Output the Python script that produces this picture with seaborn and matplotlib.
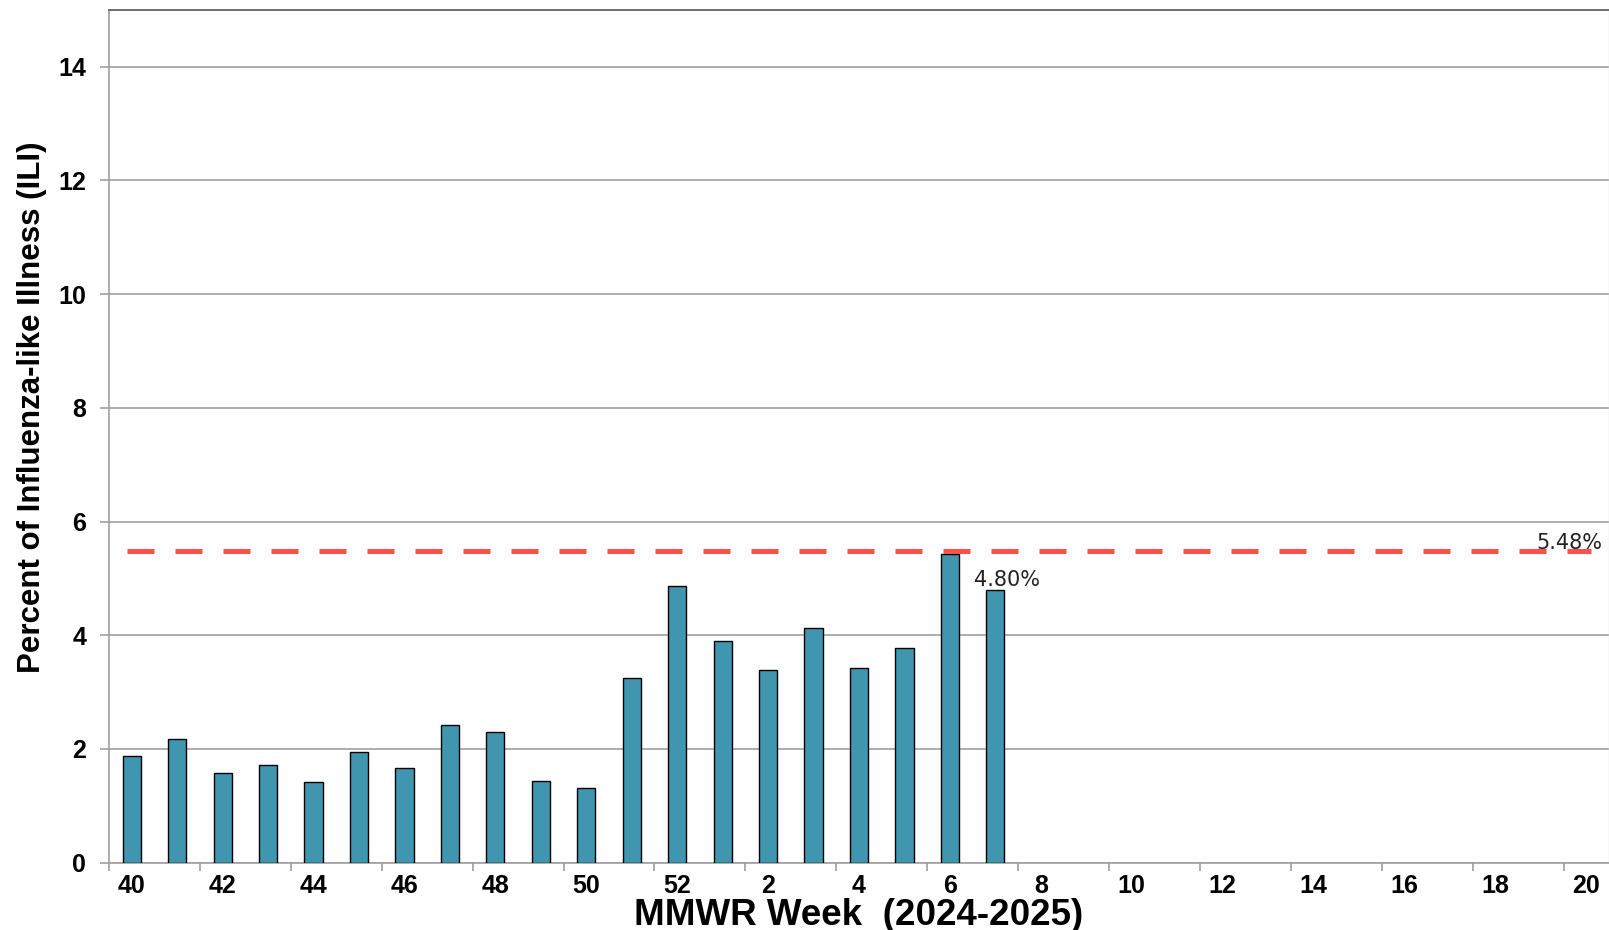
import numpy as np
import pandas as pd
import matplotlib
matplotlib.use("Agg")
import matplotlib.pyplot as plt
from matplotlib.ticker import FixedLocator, NullFormatter
import seaborn as sns

# ---- data ----
weeks = [40, 41, 42, 43, 44, 45, 46, 47, 48, 49, 50, 51, 52,
         1, 2, 3, 4, 5, 6, 7, 8, 9, 10, 11, 12, 13, 14, 15, 16, 17, 18, 19, 20]
week_labels = [str(w) for w in weeks]
ili_values = [1.87, 2.17, 1.57, 1.72, 1.42, 1.95, 1.67, 2.42, 2.29, 1.44, 1.31,
              3.24, 4.86, 3.90, 3.39, 4.13, 3.43, 3.78, 5.42, 4.80]
baseline_value = 5.48
last_label = "4.80%"
baseline_label = "5.48%"
y_ticks = [0, 2, 4, 6, 8, 10, 12, 14]

vals = ili_values + [np.nan] * (len(weeks) - len(ili_values))
df = pd.DataFrame({"week": week_labels, "pct": vals})

sns.set_theme(style="white")
plt.rcParams["font.family"] = ["Liberation Sans", "DejaVu Sans"]

fig = plt.figure(figsize=(16.09, 9.30), dpi=100)
ax = fig.add_axes([109 / 1609, 1 - 862.7 / 930, 1500 / 1609, 853 / 930])

sns.barplot(data=df, x="week", y="pct", order=week_labels, color="#3f96ae",
            saturation=1, width=0.4, edgecolor="black", linewidth=1.0,
            errorbar=None, ax=ax, zorder=3)

ax.set_xlim(-0.5, len(weeks) - 0.5)
ax.set_ylim(0, 15)

# grid
ax.set_yticks(y_ticks)
ax.set_yticklabels([str(t) for t in y_ticks], fontsize=18, fontweight="bold",
                   color="black")
ax.yaxis.grid(True, color="#a0a0a0", linewidth=1.2, zorder=0)
ax.xaxis.grid(False)
ax.set_axisbelow(True)

# x ticks: labels every other week, tick marks on boundaries
major_pos = list(range(0, len(weeks), 2))
ax.set_xticks(major_pos)
ax.set_xticklabels(week_labels[::2], fontsize=18, fontweight="bold", color="black")
ax.xaxis.set_minor_locator(FixedLocator([p - 0.5 for p in major_pos]))
ax.xaxis.set_minor_formatter(NullFormatter())
ax.tick_params(axis="x", which="major", length=0, pad=8)
ax.tick_params(axis="x", which="minor", length=6, width=1.2, color="#a0a0a0",
               direction="out", bottom=True)
ax.tick_params(axis="y", which="major", length=6.5, width=1.2, color="#a0a0a0",
               direction="out", left=True, pad=10)

for side in ["left", "bottom"]:
    ax.spines[side].set_color("#a0a0a0")
    ax.spines[side].set_linewidth(1.2)
ax.spines["top"].set_color("#555555")
ax.spines["top"].set_linewidth(1.2)
ax.spines["right"].set_color("#e0e0e0")
ax.spines["right"].set_linewidth(1.0)

ax.set_xlabel("")
ax.set_ylabel("")

# threshold line
ax.plot([-0.1, len(weeks) - 0.9], [baseline_value, baseline_value],
        color="#ff5050", linewidth=3.6, dashes=(5.4, 4.2), zorder=4,
        solid_capstyle="butt", dash_capstyle="butt")

# annotations
ax.text(len(ili_values) - 1 - 0.47, ili_values[-1] + 0.06, last_label,
        fontsize=15, family="DejaVu Sans", color="#222222",
        ha="left", va="baseline", zorder=5)
ax.text(30.9, baseline_value + 0.035, baseline_label,
        fontsize=15, family="DejaVu Sans", color="#222222",
        ha="left", va="baseline", zorder=5)

# axis titles
fig.text(32 / 1609, 1 - 407 / 930, "Percent of Influenza-like Illness (ILI)",
         rotation=90, ha="center", va="center", fontsize=22.5, fontweight="bold",
         color="black")
fig.text(859 / 1609, 1 - 925 / 930, "MMWR Week  (2024-2025)",
         ha="center", va="baseline", fontsize=26.5, fontweight="bold",
         color="black")

fig.savefig("out.png", dpi=100)
